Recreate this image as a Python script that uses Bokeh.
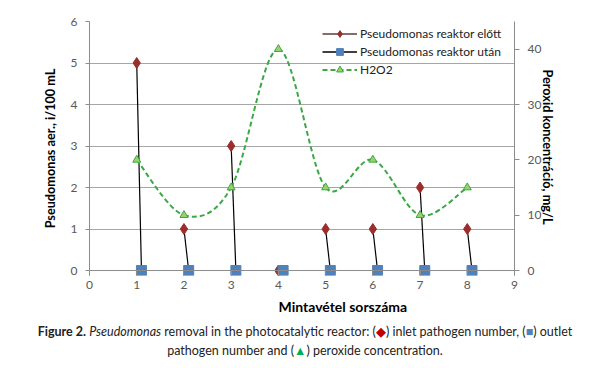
from bokeh.plotting import figure
from bokeh.models import (Range1d, LinearAxis, ColumnDataSource, Legend, LegendItem,
                          FixedTicker, Div, Span, Title)
from bokeh.layouts import column
from bokeh.embed import file_html
from bokeh.resources import INLINE

# ---- data ----
samples = [1, 2, 3, 4, 5, 6, 7, 8]
inlet = [5, 1, 3, 0, 1, 1, 2, 1]               # Pseudomonas reaktor előtt
outlet_x = [1.1, 2.1, 3.1, 4.1, 5.1, 6.1, 7.1, 8.1]
outlet = [0, 0, 0, 0, 0, 0, 0, 0]               # Pseudomonas reaktor után
h2o2 = [20, 10, 15, 40, 15, 20, 10, 15]         # H2O2, mg/L
x_ticks = [0, 1, 2, 3, 4, 5, 6, 7, 8, 9]
left_ticks = [0, 1, 2, 3, 4, 5, 6]
right_ticks = [0, 10, 20, 30, 40]

FONT = "Lato"
TICK_COLOR = "#595959"
AXIS_COLOR = "#8c8c8c"
GRID_COLOR = "#a6a6a6"
RED = "#9B2D2D"
BLUE = "#4F81BD"
GREEN = "#3AA847"
LIGHT_GREEN = "#9BD26A"

# small padding below zero (the length of the x tick marks) so markers on the axis are not clipped
PAD = 0.12
p = figure(width=600, height=329, x_range=Range1d(0, 9), y_range=Range1d(-PAD, 6),
           output_backend="svg", toolbar_location=None,
           min_border_left=89, min_border_right=86, min_border_top=21, min_border_bottom=54)
p.outline_line_color = None
p.background_fill_color = "white"
p.border_fill_color = "white"
p.extra_y_ranges = {"right": Range1d(-PAD * 45 / 6, 45)}

p.xaxis.ticker = FixedTicker(ticks=x_ticks)
p.yaxis.ticker = FixedTicker(ticks=left_ticks)
p.xgrid.grid_line_color = None
p.ygrid.ticker = FixedTicker(ticks=left_ticks[1:])
p.ygrid.grid_line_color = GRID_COLOR
p.ygrid.grid_line_width = 1

right_axis = LinearAxis(y_range_name="right", ticker=FixedTicker(ticks=right_ticks))
p.add_layout(right_axis, "right")

for ax in [p.xaxis[0], p.yaxis[0], right_axis]:
    ax.axis_line_color = AXIS_COLOR
    ax.major_tick_line_color = AXIS_COLOR
    ax.minor_tick_line_color = None
    ax.major_tick_in = 0
    ax.major_label_text_color = TICK_COLOR
    ax.major_label_text_font = FONT
    ax.major_label_text_font_size = "12px"
    ax.axis_label_text_font = FONT
    ax.axis_label_text_font_style = "bold"
    ax.axis_label_text_font_size = "12.7px"
    ax.axis_label_text_color = "#000000"

# x axis: line drawn at zero, ticks hang from it down to the frame edge
p.xaxis[0].axis_line_color = None
p.xaxis[0].major_tick_in = 5
p.xaxis[0].major_tick_out = 0
p.xaxis[0].major_label_standoff = 5
p.add_layout(Span(location=0, dimension="width", line_color=AXIS_COLOR, line_width=1))

# small blank spacer between the tick labels and the x axis title
p.add_layout(Title(text=" ", text_font_size="2px", standoff=0), "below")
xtitle = Title(text="Mintavétel sorszáma", align="left", offset=189, standoff=0,
               text_font=FONT, text_font_style="bold", text_font_size="14px",
               text_color="#000000")
p.add_layout(xtitle, "below")

p.yaxis[0].major_tick_out = 4
p.yaxis[0].major_label_standoff = 8
p.yaxis[0].axis_label = "Pseudomonas aer., i/100 mL"
p.yaxis[0].axis_label_standoff = 10

right_axis.major_tick_out = 5
right_axis.major_label_standoff = 8
right_axis.axis_label = "Peroxid  koncentráció, mg/L"
right_axis.axis_label_standoff = -4

# ---- connecting lines inlet -> outlet ----
seg_src = ColumnDataSource(dict(x0=samples, y0=inlet, x1=outlet_x, y1=outlet))
p.segment("x0", "y0", "x1", "y1", source=seg_src, line_color="black", line_width=1.2)

# ---- smoothed H2O2 curve (Bezier segments through the data points) ----
n = len(samples)
bx0, by0, bx1, by1, cx0, cy0, cx1, cy1 = [], [], [], [], [], [], [], []
for i in range(n - 1):
    xm, ym = (samples[i - 1], h2o2[i - 1]) if i > 0 else (samples[i], h2o2[i])
    xa, ya = samples[i], h2o2[i]
    xb, yb = samples[i + 1], h2o2[i + 1]
    xp, yp = (samples[i + 2], h2o2[i + 2]) if i + 2 < n else (samples[i + 1], h2o2[i + 1])
    bx0.append(xa); by0.append(ya); bx1.append(xb); by1.append(yb)
    cx0.append(xa + (xb - xm) / 6); cy0.append(ya + (yb - ym) / 6)
    cx1.append(xb - (xp - xa) / 6); cy1.append(yb - (yp - ya) / 6)
bez_src = ColumnDataSource(dict(x0=bx0, y0=by0, x1=bx1, y1=by1,
                                cx0=cx0, cy0=cy0, cx1=cx1, cy1=cy1))
p.bezier("x0", "y0", "x1", "y1", "cx0", "cy0", "cx1", "cy1", source=bez_src,
         y_range_name="right", line_color=GREEN, line_width=2, line_dash="5 3")

h_src = ColumnDataSource(dict(x=samples, y=h2o2))
p.scatter("x", "y", source=h_src, y_range_name="right", marker="triangle",
          size=8, fill_color=LIGHT_GREEN, line_color=GREEN, line_width=1)

in_src = ColumnDataSource(dict(x=samples, y=inlet))
p.scatter("x", "y", source=in_src, marker="diamond", size=11,
          fill_color=RED, line_color=RED)

out_src = ColumnDataSource(dict(x=outlet_x, y=outlet))
p.scatter("x", "y", source=out_src, marker="square", size=10,
          fill_color=BLUE, line_color=BLUE)

# legend-only renderers (no visible data)
nan = float("nan")
empty = ColumnDataSource(dict(x=[nan], y=[nan]))
l1 = p.line("x", "y", source=empty, line_color="#5a3c3c", line_width=1.5)
l2 = p.line("x", "y", source=empty, line_color="black", line_width=1.5)
l3 = p.line("x", "y", source=empty, line_color=GREEN, line_width=2, line_dash="5 3")
d_leg = p.scatter("x", "y", source=empty, marker="diamond", size=8,
                  fill_color=RED, line_color=RED)
s_leg = p.scatter("x", "y", source=empty, marker="square", size=10,
                  fill_color=BLUE, line_color=BLUE)
t_leg = p.scatter("x", "y", source=empty, marker="triangle", size=7,
                  fill_color=LIGHT_GREEN, line_color=GREEN)

legend = Legend(items=[
    LegendItem(label="Pseudomonas reaktor előtt", renderers=[l1, d_leg]),
    LegendItem(label="Pseudomonas reaktor után", renderers=[l2, s_leg]),
    LegendItem(label="H2O2", renderers=[l3, t_leg]),
], location=(233, 197))
legend.background_fill_alpha = 0
legend.border_line_color = None
legend.padding = 0
legend.margin = 0
legend.spacing = 1
legend.glyph_width = 35
legend.glyph_height = 17
legend.label_height = 17
legend.label_standoff = 3
legend.label_text_font = FONT
legend.label_text_font_size = "12px"
legend.label_text_color = "#222222"
p.add_layout(legend, "center")

caption = Div(
    text=('<div style="position:relative; top:-12px">'
          '<b>Figure 2.</b> <i>Pseudomonas</i> removal in the photocatalytic reactor: '
          '(<span style="color:#C00000">&#9670;</span>) inlet pathogen number, '
          '(<span style="color:#4F81BD">&#9632;</span>) outlet<br>'
          'pathogen number and (<span style="color:#00B050">&#9650;</span>) peroxide concentration.'
          '</div>'),
    width=600, height=36,
    styles={"font-family": FONT, "font-size": "12.5px", "text-align": "center",
            "line-height": "19px", "color": "#222222", "padding-top": "0px",
            "white-space": "nowrap", "width": "600px"})

layout = column(p, caption, spacing=0)
open("out.html", "w").write(file_html(layout, INLINE))
